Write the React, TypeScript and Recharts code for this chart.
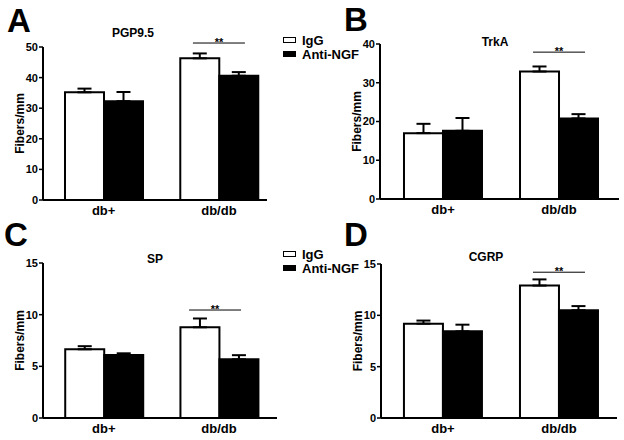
import {
  Bar,
  BarChart,
  ErrorBar,
  Legend,
  ReferenceDot,
  XAxis,
  YAxis,
} from "recharts";

const CATEGORIES = ["db+", "db/db"];
const SERIES = ["IgG", "Anti-NGF"];

// A: PGP9.5
const PGP_IGG = [35.2, 46.3];
const PGP_IGG_SEM = [1.2, 1.6];
const PGP_ANTI = [32.3, 40.6];
const PGP_ANTI_SEM = [3.0, 1.2];
const PGP_TICKS = [0, 10, 20, 30, 40, 50];

// B: TrkA
const TRKA_IGG = [17.0, 32.9];
const TRKA_IGG_SEM = [2.4, 1.3];
const TRKA_ANTI = [17.6, 20.8];
const TRKA_ANTI_SEM = [3.3, 1.1];
const TRKA_TICKS = [0, 10, 20, 30, 40];

// C: SP
const SP_IGG = [6.65, 8.78];
const SP_IGG_SEM = [0.3, 0.85];
const SP_ANTI = [6.1, 5.68];
const SP_ANTI_SEM = [0.16, 0.4];
const SP_TICKS = [0, 5, 10, 15];

// D: CGRP
const CGRP_IGG = [9.19, 12.9];
const CGRP_IGG_SEM = [0.3, 0.6];
const CGRP_ANTI = [8.44, 10.5];
const CGRP_ANTI_SEM = [0.65, 0.4];
const CGRP_TICKS = [0, 5, 10, 15];

const FONT = '"Liberation Sans", Arial, sans-serif';

function buildRows(igg: number[], iggSem: number[], anti: number[], antiSem: number[]) {
  return CATEGORIES.map((name, i) => ({
    name,
    pos: i + 1,
    igg: igg[i],
    iggErr: [0, iggSem[i]],
    anti: anti[i],
    antiErr: [0, antiSem[i]],
  }));
}

const PANELS = [
  {
    letter: "A", title: "PGP9.5",
    rows: buildRows(PGP_IGG, PGP_IGG_SEM, PGP_ANTI, PGP_ANTI_SEM), ticks: PGP_TICKS,
    qx: 0, qy: 0, axisX: 43, axisRight: 267, plotTop: 47, plotBottom: 200,
    xDomain: [0.474, 2.417], bracketY: 51.3, bracketDx: 0,
    titleX: 133, titleY: 33, letterX: 19, letterY: 20, legendTop: 33,
  },
  {
    letter: "B", title: "TrkA",
    rows: buildRows(TRKA_IGG, TRKA_IGG_SEM, TRKA_ANTI, TRKA_ANTI_SEM), ticks: TRKA_TICKS,
    qx: 312, qy: 0, axisX: 380, axisRight: 619, plotTop: 44, plotBottom: 199,
    xDomain: [0.457, 2.517], bracketY: 37.9, bracketDx: 0,
    titleX: 495, titleY: 42, letterX: 356, letterY: 19, legendTop: null,
  },
  {
    letter: "C", title: "SP",
    rows: buildRows(SP_IGG, SP_IGG_SEM, SP_ANTI, SP_ANTI_SEM), ticks: SP_TICKS,
    qx: 0, qy: 220, axisX: 43, axisRight: 277, plotTop: 263, plotBottom: 418,
    xDomain: [0.472, 2.503], bracketY: 10.45, bracketDx: -4,
    titleX: 155, titleY: 259, letterX: 16, letterY: 234, legendTop: 27,
  },
  {
    letter: "D", title: "CGRP",
    rows: buildRows(CGRP_IGG, CGRP_IGG_SEM, CGRP_ANTI, CGRP_ANTI_SEM), ticks: CGRP_TICKS,
    qx: 312, qy: 220, axisX: 381, axisRight: 617, plotTop: 264, plotBottom: 418,
    xDomain: [0.466, 2.5], bracketY: 14.2, bracketDx: 0,
    titleX: 486, titleY: 257, letterX: 356, letterY: 234, legendTop: null,
  },
];

const bracketShape = (dx: number) => (props: any) => {
  const { cx, cy } = props;
  return (
    <g>
      <line x1={cx + dx - 26} x2={cx + dx + 26} y1={cy} y2={cy} stroke="#000" strokeWidth={1} />
      <text x={cx + dx} y={cy + 3} textAnchor="middle" fontSize={11} fontWeight="bold" fill="#000">
        **
      </text>
    </g>
  );
};

const renderLegend = ({ payload }: any) => (
  <div style={{ fontFamily: FONT, fontSize: 13, fontWeight: "bold", color: "#000" }}>
    {(payload || []).map((e: any) => (
      <div key={e.value} style={{ display: "flex", alignItems: "center", height: 14 }}>
        <span
          style={{
            display: "inline-block",
            width: 11,
            height: 4,
            border: "1px solid #000",
            background: e.color,
            marginRight: 6,
          }}
        />
        <span>{e.value}</span>
      </div>
    ))}
  </div>
);

function Panel({ p }: { p: (typeof PANELS)[number] }) {
  const yMax = p.ticks[p.ticks.length - 1];
  return (
    <>
      <div style={{ position: "absolute", left: p.qx, top: p.qy }}>
        <BarChart
          width={312}
          height={220}
          data={p.rows}
          barGap={0}
          margin={{
            top: p.plotTop - p.qy,
            right: p.qx + 312 - p.axisRight,
            bottom: p.qy + 220 - p.plotBottom - 20,
            left: 0,
          }}
        >
          <XAxis
            type="number"
            dataKey="pos"
            domain={p.xDomain}
            ticks={[1, 2]}
            allowDataOverflow
            tickFormatter={(v: number) => CATEGORIES[v - 1]}
            tickLine={false}
            tickMargin={0}
            height={20}
            axisLine={{ stroke: "#000", strokeWidth: 2 }}
            tick={{ fontSize: 13, fontWeight: "bold", fill: "#000" }}
          />
          <YAxis
            width={p.axisX - p.qx}
            domain={[0, yMax]}
            ticks={p.ticks}
            tickSize={4}
            tickMargin={1}
            axisLine={{ stroke: "#000", strokeWidth: 2 }}
            tickLine={{ stroke: "#000", strokeWidth: 1.5 }}
            tick={{ fontSize: 11, fontWeight: "bold", fill: "#000" }}
            label={{
              content: ({ viewBox }: any) => {
                const x = viewBox.x + viewBox.width - 23;
                const y = viewBox.y + viewBox.height / 2;
                return (
                  <text
                    x={x}
                    y={y}
                    transform={`rotate(-90 ${x} ${y})`}
                    textAnchor="middle"
                    dominantBaseline="central"
                    fontSize={12}
                    fontWeight="bold"
                    fill="#000"
                  >
                    Fibers/mm
                  </text>
                );
              },
            }}
          />
          <Bar
            dataKey="igg"
            name={SERIES[0]}
            barSize={39}
            fill="#fff"
            stroke="#000"
            strokeWidth={2}
            isAnimationActive={false}
          >
            <ErrorBar dataKey="iggErr" direction="y" width={7} stroke="#000" strokeWidth={2} />
          </Bar>
          <Bar
            dataKey="anti"
            name={SERIES[1]}
            barSize={39}
            fill="#000"
            stroke="#000"
            strokeWidth={2}
            isAnimationActive={false}
          >
            <ErrorBar dataKey="antiErr" direction="y" width={7} stroke="#000" strokeWidth={2} />
          </Bar>
          <ReferenceDot
            x={2}
            y={p.bracketY}
            ifOverflow="visible"
            shape={bracketShape(p.bracketDx)}
          />
          {p.legendTop !== null && (
            <Legend
              layout="vertical"
              align="center"
              verticalAlign="middle"
              itemSorter={(item: any) => SERIES.indexOf(item.value)}
              wrapperStyle={{ left: 283, top: p.legendTop, width: 80 }}
              content={renderLegend}
            />
          )}
        </BarChart>
      </div>
      <div
        style={{
          position: "absolute",
          left: p.titleX,
          top: p.titleY,
          transform: "translate(-50%, -50%)",
          fontSize: 12,
          fontWeight: "bold",
          whiteSpace: "nowrap",
        }}
      >
        {p.title}
      </div>
      <div
        style={{
          position: "absolute",
          left: p.letterX,
          top: p.letterY,
          transform: "translate(-50%, -50%)",
          fontSize: 33,
          fontWeight: "bold",
          lineHeight: 1,
        }}
      >
        {p.letter}
      </div>
    </>
  );
}

export default function App() {
  return (
    <div
      style={{
        position: "fixed",
        left: 0,
        top: 0,
        width: 624,
        height: 440,
        background: "#fff",
        fontFamily: FONT,
        color: "#000",
      }}
    >
      {PANELS.map((p) => (
        <Panel key={p.letter} p={p} />
      ))}
    </div>
  );
}
